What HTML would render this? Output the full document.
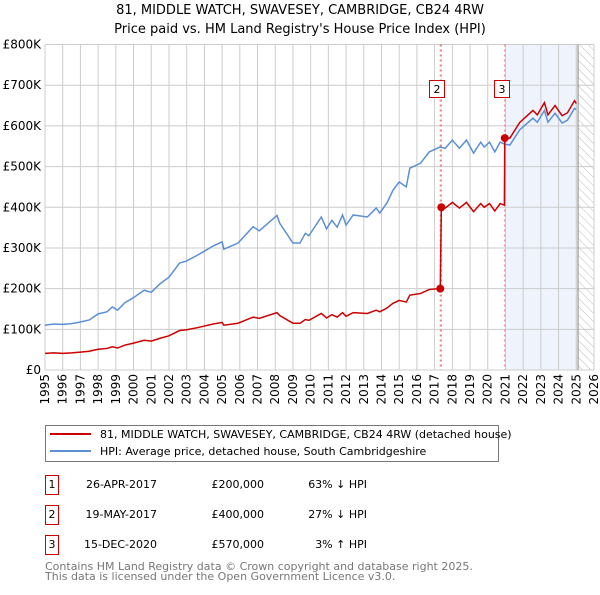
<!DOCTYPE html>
<html><head><meta charset="utf-8"><style>
body{margin:0;width:600px;height:590px;background:#fff;font-family:"Liberation Sans","DejaVu Sans",sans-serif;overflow:hidden}
</style></head><body>
<svg id="chart" width="600" height="590" viewBox="0 0 600 590" xmlns="http://www.w3.org/2000/svg" font-family="DejaVu Sans, Liberation Sans, sans-serif">
<defs><pattern id="hatch" patternUnits="userSpaceOnUse" width="6" height="6" patternTransform="rotate(-45)"><line x1="0" y1="0" x2="0" y2="6" stroke="#bbb" stroke-width="1"/></pattern></defs>
<text x="300" y="14" text-anchor="middle" font-size="13">81, MIDDLE WATCH, SWAVESEY, CAMBRIDGE, CB24 4RW</text>
<text x="300" y="33" text-anchor="middle" font-size="13">Price paid vs. HM Land Registry's House Price Index (HPI)</text>
<g id="plot"></g>
<g>
<rect x="45.5" y="425.5" width="453" height="36" fill="#fff" stroke="#777"/>
<line x1="50" y1="434" x2="91" y2="434" stroke="#cc0000" stroke-width="2"/>
<text x="100" y="438" font-size="11">81, MIDDLE WATCH, SWAVESEY, CAMBRIDGE, CB24 4RW (detached house)</text>
<line x1="50" y1="451" x2="91" y2="451" stroke="#5b8fd6" stroke-width="2"/>
<text x="100" y="455" font-size="11">HPI: Average price, detached house, South Cambridgeshire</text>
</g>
<g font-size="11">
<rect x="45.5" y="475.5" width="13" height="19" fill="#fff" stroke="#cc0000"/><text x="52" y="488" text-anchor="middle">1</text>
<text x="157" y="488" text-anchor="end">26-APR-2017</text><text x="264" y="488" text-anchor="end">£200,000</text><text x="367" y="488" text-anchor="end">63% ↓ HPI</text>
<rect x="45.5" y="505.5" width="13" height="19" fill="#fff" stroke="#cc0000"/><text x="52" y="518" text-anchor="middle">2</text>
<text x="157" y="518" text-anchor="end">19-MAY-2017</text><text x="264" y="518" text-anchor="end">£400,000</text><text x="367" y="518" text-anchor="end">27% ↓ HPI</text>
<rect x="45.5" y="535.5" width="13" height="19" fill="#fff" stroke="#cc0000"/><text x="52" y="548" text-anchor="middle">3</text>
<text x="157" y="548" text-anchor="end">15-DEC-2020</text><text x="264" y="548" text-anchor="end">£570,000</text><text x="367" y="548" text-anchor="end">3% ↑ HPI</text>
</g>
<text x="45" y="570" font-size="11" fill="#777">Contains HM Land Registry data © Crown copyright and database right 2025.</text>
<text x="45" y="580" font-size="11" fill="#777">This data is licensed under the Open Government Licence v3.0.</text>
</svg>
<script>
const hpiTimes=[1995.0,1995.5,1996.0,1996.5,1997.0,1997.5,1998.0,1998.5,1998.8,1999.1,1999.5,2000.0,2000.6,2001.0,2001.5,2002.0,2002.6,2003.0,2003.6,2004.0,2004.5,2005.0,2005.1,2005.9,2006.75,2007.1,2008.1,2008.25,2009.0,2009.4,2009.7,2009.9,2010.6,2010.9,2011.2,2011.5,2011.8,2012.0,2012.4,2013.2,2013.7,2013.9,2014.3,2014.65,2015.0,2015.4,2015.6,2016.2,2016.7,2017.3,2017.6,2018.0,2018.4,2018.8,2019.2,2019.6,2019.8,2020.1,2020.4,2020.7,2020.96,2021.25,2021.8,2022.55,2022.8,2023.2,2023.4,2023.8,2024.2,2024.5,2024.9,2025.0];
const hpiValues=[110,113,112,114,118,123,138,143,155,147,165,178,196,191,212,228,263,268,282,292,305,315,297,312,352,342,380,361,312,312,336,330,376,347,368,351,381,356,381,376,398,386,410,442,462,450,496,508,536,548,545,565,545,565,533,560,548,560,536,560,555,553,590,619,609,638,609,631,607,614,643,640];
const redTimes=[1995.0,1995.5,1996.0,1996.5,1997.0,1997.5,1998.0,1998.5,1998.8,1999.1,1999.5,2000.0,2000.6,2001.0,2001.5,2002.0,2002.6,2003.0,2003.6,2004.0,2004.5,2005.0,2005.1,2005.9,2006.75,2007.1,2008.1,2008.25,2009.0,2009.4,2009.7,2009.9,2010.6,2010.9,2011.2,2011.5,2011.8,2012.0,2012.4,2013.2,2013.7,2013.9,2014.3,2014.65,2015.0,2015.4,2015.6,2016.2,2016.7,2017.3,2017.32,2017.38,2017.6,2018.0,2018.4,2018.8,2019.2,2019.6,2019.8,2020.1,2020.4,2020.7,2020.94,2020.96,2021.25,2021.8,2022.55,2022.8,2023.2,2023.4,2023.8,2024.2,2024.5,2024.9,2025.0];
const redValues=[41,42,41,42,44,46,51,53,57,54,61,66,73,71,78,84,97,99,104,108,113,117,110,115,130,127,141,134,115,115,124,122,139,128,136,130,141,132,141,139,147,143,152,164,171,167,184,188,198,200,200,400,398,412,398,412,389,409,400,409,391,409,405,570,570,608,638,627,657,627,650,625,632,662,655];
const saleTimes=[2017.32,2017.38,2020.96];
const saleValues=[200,400,570];
const saleLabels=["1","2","3"];
const yTicks=[0,100,200,300,400,500,600,700,800];
const yTickLabels=["£0","£100K","£200K","£300K","£400K","£500K","£600K","£700K","£800K"];
const years=[1995,1996,1997,1998,1999,2000,2001,2002,2003,2004,2005,2006,2007,2008,2009,2010,2011,2012,2013,2014,2015,2016,2017,2018,2019,2020,2021,2022,2023,2024,2025,2026];

const X0=45,X1=594,Y0=370,Y1=44.5;
const xs=t=>X0+(t-1995)/(2026-1995)*(X1-X0);
const ys=v=>Y0-v/800*(Y0-Y1);
const NS="http://www.w3.org/2000/svg";
const g=document.getElementById('plot');
function mk(tag,attrs,parent){const e=document.createElementNS(NS,tag);for(const k in attrs)e.setAttribute(k,attrs[k]);(parent||g).appendChild(e);return e;}

const bg=mk('rect',{x:X0,y:Y1,width:X1-X0,height:Y0-Y1,fill:'#fff'});


const shade=mk('rect',{x:xs(2020.96),y:Y1,width:xs(2025.1)-xs(2020.96),height:Y0-Y1,fill:'#eef3fc'});


const hat=mk('rect',{x:xs(2025.1),y:Y1,width:X1-xs(2025.1),height:Y0-Y1,fill:'url(#hatch)'});



years.forEach(y=>{
  const x=xs(y);
  const l=mk('line',{x1:x,y1:Y1,x2:x,y2:Y0,stroke:'#ccc','stroke-width':1});
  
  
  const t=mk('text',{x:0,y:0,'font-size':12,'text-anchor':'end',transform:`translate(${x+4},${Y0+4}) rotate(-90)`});
  t.textContent=y;
  
  
});
yTicks.forEach((v,i)=>{
  const y=ys(v);
  const l=mk('line',{x1:X0,y1:y,x2:X1,y2:y,stroke:'#ccc','stroke-width':1});
  
  
  const t=mk('text',{x:X0-4,y:y+4,'font-size':12,'text-anchor':'end'});
  t.textContent=yTickLabels[i];
  
  
});
const nl=mk('line',{x1:xs(2025.1),y1:Y1,x2:xs(2025.1),y2:Y0,stroke:'#888','stroke-width':1});



saleTimes.forEach((t,i)=>{
  const l=mk('line',{x1:xs(t),y1:Y1,x2:xs(t),y2:Y0,stroke:'#f08080','stroke-width':1.2,'stroke-dasharray':'2,3'});
  
  
});

const hp=mk('polyline',{points:hpiTimes.map((t,i)=>xs(t)+','+ys(hpiValues[i])).join(' '),fill:'none',stroke:'#5b8fd6','stroke-width':1.5});


const rp=mk('polyline',{points:redTimes.map((t,i)=>xs(t)+','+ys(redValues[i])).join(' '),fill:'none',stroke:'#cc0000','stroke-width':1.5});



saleTimes.forEach((t,i)=>{
  const c=mk('circle',{cx:xs(t),cy:ys(saleValues[i]),r:4,fill:'#cc0000'});
  
  
});
[[0,437],[1,437],[2,502]].forEach(([i,cx])=>{
  const r=mk('rect',{x:cx-7.5,y:80.5,width:15,height:17,fill:'#fff',stroke:'#cc0000'});
  
  
  const t=mk('text',{x:cx,y:93,'font-size':11,'text-anchor':'middle'});
  t.textContent=saleLabels[i];
  
  
});
</script>
</body></html>
